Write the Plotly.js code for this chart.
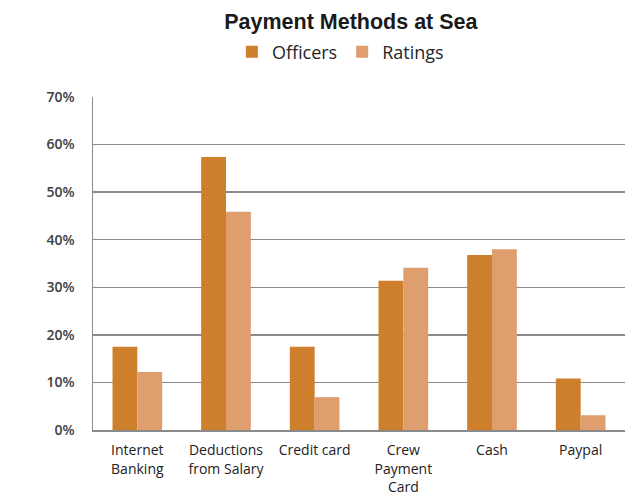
<!DOCTYPE html>
<html>
<head>
<meta charset="utf-8">
<script src="https://cdn.plot.ly/plotly-3.0.1.min.js"></script>
<style>html,body{margin:0;padding:0;background:#fff;}#chart{width:631px;height:497px;}</style>
</head>
<body>
<div id="chart"></div>
<script>
var categories = ["Internet<br>Banking", "Deductions<br>from Salary", "Credit card", "Crew<br>Payment<br>Card", "Cash", "Paypal"];
var officers = [17.5, 57.4, 17.5, 31.4, 36.8, 10.8];
var ratings = [12.2, 45.9, 6.9, 34.1, 38.0, 3.1];
var yTicks = [0, 10, 20, 30, 40, 50, 60, 70];

var traces = [
  {type: "bar", name: "Officers", x: categories, y: officers,
   marker: {color: "#CE7F2B", line: {width: 0}}},
  {type: "bar", name: "Ratings", x: categories, y: ratings,
   marker: {color: "#DE9E6E", line: {width: 0}}}
];

var layout = {
  width: 631, height: 497,
  margin: {l: 93, r: 6, t: 97, b: 67},
  paper_bgcolor: "#ffffff", plot_bgcolor: "#ffffff",
  barmode: "group", bargap: 0.44, bargroupgap: 0,
  title: {text: "<b>Payment Methods at Sea</b>", x: 0.556, xref: "container", xanchor: "center",
          y: 0.956, yref: "container", yanchor: "middle",
          font: {family: "Liberation Sans, Arial, sans-serif", size: 21.5, color: "#1a1a1a"}},
  legend: {orientation: "h", x: 0.465, xanchor: "center", y: 1.135, yanchor: "middle",
           font: {family: "Open Sans, sans-serif", size: 18, color: "#262626"},
           itemwidth: 30, traceorder: "normal", bgcolor: "rgba(0,0,0,0)"},
  xaxis: {type: "category", showgrid: false, zeroline: false, showline: true,
          linecolor: "#8a8a8a", linewidth: 1.5, ticks: "",
          ticklabelstandoff: 7,
          tickfont: {family: "Open Sans, sans-serif", size: 14, color: "#222222"}},
  yaxis: {range: [0, 70], tickvals: yTicks, ticktext: yTicks.map(function(v){return v + "%";}),
          showgrid: true, gridcolor: "#8a8a8a", gridwidth: 1.5, zeroline: false,
          showline: true, linecolor: "#8a8a8a", linewidth: 1.5, ticks: "",
          ticklabelstandoff: 14,
          tickfont: {family: "Open Sans, sans-serif", size: 14, color: "#404040", weight: 600}},
  showlegend: true
};

Plotly.newPlot("chart", traces, layout, {displayModeBar: false, staticPlot: true});
</script>
</body>
</html>
